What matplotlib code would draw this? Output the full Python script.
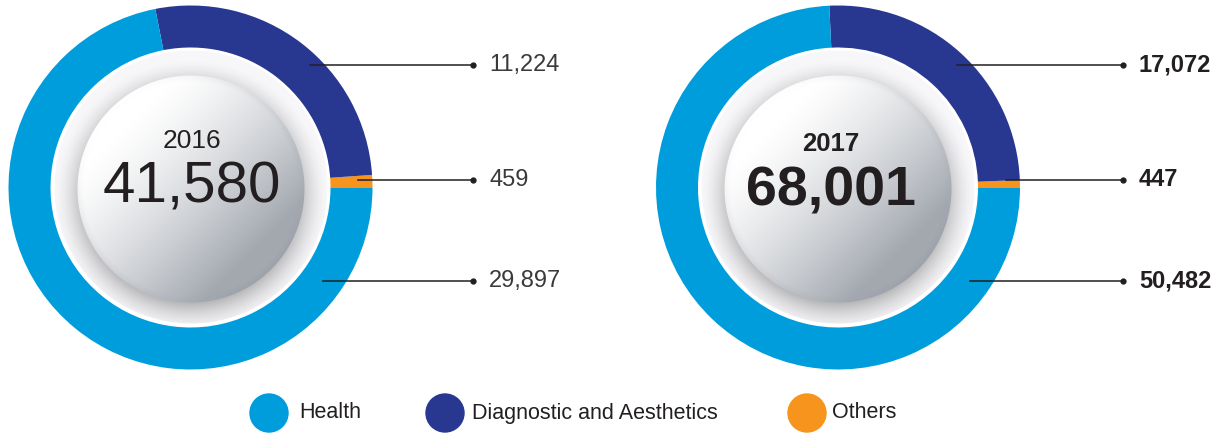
import numpy as np
import matplotlib
matplotlib.use("Agg")
import matplotlib.pyplot as plt
from matplotlib.patches import Ellipse

plt.rcParams['font.family'] = ['Liberation Sans', 'DejaVu Sans']

# data
years = ['2016', '2017']
totals = ['41,580', '68,001']
categories = ['Others', 'Diagnostic and Aesthetics', 'Health']
values_2016 = [459, 11224, 29897]
values_2017 = [447, 17072, 50482]
value_labels_2016 = ['459', '11,224', '29,897']
value_labels_2017 = ['447', '17,072', '50,482']
colors = {'Health': '#009ddc', 'Diagnostic and Aesthetics': '#283891', 'Others': '#f7941d'}
legend_order = ['Health', 'Diagnostic and Aesthetics', 'Others']

W, H = 1222, 434
R_OUT, RING = 182, 42
TXT = '#231f20'


def button_image(r_disc=137, r_btn=114, n=300):
    half = n / 2
    yy, xx = np.mgrid[-half:half:1.0, -half:half:1.0] + 0.5
    img = np.ones((n, n, 4))
    # soft shadow disc
    rs = np.hypot(xx, yy - 9)
    s = np.clip(1 - (rs - 105) / 32, 0, 1) ** 1.6
    shade = 0.97 - 0.28 * s
    rgb = np.stack([shade, shade, shade * 1.01], axis=-1)
    r = np.hypot(xx, yy)
    alpha = np.clip(r_disc - r, 0, 1)
    # button face, diagonal gradient
    rb = np.hypot(xx, yy - 2)
    t = np.clip((xx + yy) / (2 * r_btn) * 0.9 + 0.5, 0, 1)
    light = np.array([1.0, 1.0, 1.0])
    dark = np.array([0.64, 0.66, 0.69])
    face = light * (1 - t[..., None] ** 1.3) + dark * t[..., None] ** 1.3
    # rim
    rim = np.clip((rb - (r_btn - 7)) / 7, 0, 1)[..., None]
    ang = np.clip((xx + yy) / (rb + 1e-6), -1.4, 1.4)[..., None] / 1.4
    rim_mix = light * (0.5 - ang / 2) + np.array([0.6, 0.62, 0.66]) * (0.5 + ang / 2)
    face = face * (1 - rim * 0.8) + rim_mix * rim * 0.8
    fa = np.clip(r_btn - rb, 0, 1)[..., None]
    rgb = rgb * (1 - fa) + face * fa
    img[..., :3] = np.clip(rgb, 0, 1)
    img[..., 3] = alpha
    return img


fig = plt.figure(figsize=(W / 100, H / 100), dpi=100)
ax = fig.add_axes([0, 0, 1, 1])
ax.set_xlim(0, W)
ax.set_ylim(H, 0)
ax.set_aspect('equal')
ax.axis('off')

centers = [(190.5, 187.5), (838, 187.5)]
label_dy = [-7.5, -122.5, 93.5]   # Others, Diagnostic, Health
leader_r = [168, 171, 162]
dot_x = [473, 1123]
all_values = [values_2016, values_2017]
all_labels = [value_labels_2016, value_labels_2017]
weights = ['normal', 'bold']

img = button_image()
for i, (cx, cy) in enumerate(centers):
    ax.pie(all_values[i], colors=[colors[c] for c in categories], startangle=0,
           counterclock=False, radius=R_OUT, center=(cx, cy),
           wedgeprops=dict(width=RING, linewidth=0), frame=True)
    ax.imshow(img, extent=[cx - 150, cx + 150, cy + 150, cy - 150],
              interpolation='bilinear', zorder=3)
    for j in range(3):
        y = cy + label_dy[j]
        x0 = cx + np.sqrt(leader_r[j] ** 2 - label_dy[j] ** 2)
        ax.plot([x0, dot_x[i]], [y, y], color='#231f20', lw=1.1, zorder=4)
        ax.plot(dot_x[i], y, 'o', color='#231f20', ms=3.5, zorder=4)
        ax.text(dot_x[i] + 16, y, all_labels[i][j], fontsize=17,
                fontweight=weights[i], color=TXT if i else '#3a3a3a',
                va='center', ha='left', zorder=5)

ax.set_xlim(0, W)
ax.set_ylim(H, 0)

# centre text
ax.text(centers[0][0] + 1, 141, years[0], fontsize=19, color=TXT, ha='center', va='center', zorder=5)
ax.text(centers[0][0] + 1, 188, totals[0], fontsize=42, color=TXT, ha='center', va='center', zorder=5)
ax.text(centers[1][0] - 7, 144, years[1], fontsize=18.5, fontweight='bold', color=TXT, ha='center', va='center', zorder=5)
ax.text(centers[1][0] - 7, 191, totals[1], fontsize=40, fontweight='bold', color=TXT, ha='center', va='center', zorder=5)

# legend
leg_x = [269, 445, 807]
leg_tx = [299, 472, 832]
for lx, tx, name in zip(leg_x, leg_tx, legend_order):
    ax.add_patch(Ellipse((lx, 413), 38, 38, color=colors[name], zorder=5))
    ax.text(tx, 413, name, fontsize=15.5, color=TXT, va='center', ha='left')

fig.savefig('out.png', dpi=100)
